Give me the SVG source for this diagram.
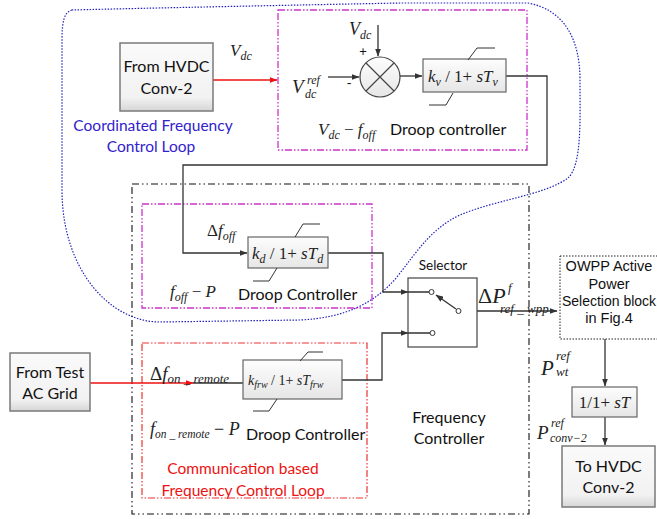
<svg xmlns="http://www.w3.org/2000/svg" width="657" height="519" viewBox="0 0 657 519">
<style>
.sans{font-family:Lato,"Open Sans","Liberation Sans",sans-serif;fill:#111}
.arial{font-family:"Liberation Sans",Arial,sans-serif;fill:#111}
.m{font-family:"Liberation Serif","Times New Roman",serif;font-style:italic;fill:#222}
.r{font-style:normal}
.box{fill:url(#g);stroke:#7a7a7a;stroke-width:1.5}
.blk{fill:url(#g2);stroke:#666;stroke-width:1.2}
.wire{fill:none;stroke:#333;stroke-width:1.3}
.lim{fill:none;stroke:#333;stroke-width:1}
.red{fill:none;stroke:#ee1111;stroke-width:1.4}
.pink{fill:none;stroke:#cc33cc;stroke-width:1.3;stroke-dasharray:7 2 1.5 2 1.5 2}
.redbox{fill:none;stroke:#ee3333;stroke-width:1.2;stroke-dasharray:7 2 1.5 2 1.5 2}
.fc{fill:none;stroke:#111;stroke-width:1.1;stroke-dasharray:7 3 1.5 3 1.5 3}
.blue{fill:none;stroke:#2222bb;stroke-width:1.2;stroke-dasharray:1.5 1.5}
</style>
<defs>
<linearGradient id="g" x1="0" y1="0" x2="0" y2="1"><stop offset="0" stop-color="#fafafa"/><stop offset="0.8" stop-color="#f2f2f2"/><stop offset="1" stop-color="#d6d6d6"/></linearGradient>
<linearGradient id="g2" x1="0" y1="0" x2="0" y2="1"><stop offset="0" stop-color="#fdfdfd"/><stop offset="1" stop-color="#e6e6e6"/></linearGradient>
<marker id="a" markerWidth="8" markerHeight="6" refX="7.5" refY="3" orient="auto" markerUnits="userSpaceOnUse"><path d="M0,0 L8,3 L0,6 Z" fill="#333"/></marker>
<marker id="ar" markerWidth="8" markerHeight="6" refX="7.5" refY="3" orient="auto" markerUnits="userSpaceOnUse"><path d="M0,0 L8,3 L0,6 Z" fill="#ee1111"/></marker>
</defs>

<!-- region outlines -->
<path class="blue" d="M72,10 C64,12 62,22 62,40 L62,190 C62,270 110,322 160,322 L300,320 C345,318 375,303 397,277 C418,250 432,228 460,215 C495,200 545,195 568,178 C582,165 580,120 580,80 C580,40 565,10 528,3 L400,3 C300,5 150,8 72,10 Z"/>
<rect class="fc" x="132" y="184" width="397" height="330"/>
<rect class="pink" x="278" y="10" width="249" height="140"/>
<rect class="pink" x="142" y="204" width="230" height="104"/>
<rect class="redbox" x="142" y="343" width="225" height="155"/>

<g id="connectors">
<path class="red" d="M213,80 L277,80" marker-end="url(#ar)"/>
<path class="wire" d="M378,25 L378,56" marker-end="url(#a)"/>
<path class="wire" d="M328,77 L359,77" marker-end="url(#a)"/>
<path class="wire" d="M400,76 L422,76" marker-end="url(#a)"/>
<path class="wire" d="M506,76 L547,76 L547,165 L183,165 L183,253 L247,253" marker-end="url(#a)"/>
<path class="wire" d="M328,253 L383,253 L383,292 L408,292" marker-end="url(#a)"/>
<path class="red" d="M90,383 L193,383" marker-end="url(#ar)"/>
<path class="wire" d="M193,383 L243,383"/>
<path class="wire" d="M342,380 L382,380 L382,333 L408,333" marker-end="url(#a)"/>
<path class="wire" d="M460,311 L557,311" marker-end="url(#a)"/>
<path class="wire" d="M605,339 L605,386" marker-end="url(#a)"/>
<path class="wire" d="M605,417 L605,445" marker-end="url(#a)"/>
</g>

<g id="from-hvdc">
<rect class="box" x="120" y="43" width="93" height="68"/>
<text class="sans" x="166.5" y="72" font-size="16" text-anchor="middle">From HVDC</text>
<text class="sans" x="166.5" y="94" font-size="16" text-anchor="middle">Conv-2</text>
</g>
<text class="m" x="230" y="56" font-size="17">V<tspan font-size="12" dy="4">dc</tspan></text>
<g id="coord-label">
<text class="sans" x="153" y="131" font-size="15.5" text-anchor="middle" style="fill:#3322cc">Coordinated  Frequency</text>
<text class="sans" x="151" y="152" font-size="15.5" text-anchor="middle" style="fill:#3322cc">Control Loop</text>
</g>

<g id="sum">
<circle cx="380" cy="77" r="20" fill="url(#g2)" stroke="#444" stroke-width="1.2"/>
<path d="M366,63 L394,91 M394,63 L366,91" stroke="#444" stroke-width="1.2"/>
<text class="m" x="349" y="35" font-size="18">V<tspan font-size="12" dy="4">dc</tspan></text>
<text class="sans" x="363" y="56" font-size="13" text-anchor="middle">+</text>
<text class="sans" x="349" y="88" font-size="14" text-anchor="middle">-</text>
<text class="m" x="292" y="93" font-size="19">V</text>
<text class="m" x="307" y="84" font-size="12">ref</text>
<text class="m" x="305" y="98" font-size="12">dc</text>
</g>

<g id="kv-block">
<rect class="blk" x="423" y="59" width="83" height="33"/>
<path class="lim" d="M468,60 L477,48 L495,48 M453,93 L446,105 L429,105"/>
<text class="m" x="428" y="82" font-size="17">k<tspan font-size="12" dy="4">v</tspan><tspan class="r" dy="-4"> / 1+ </tspan>sT<tspan font-size="12" dy="4">v</tspan></text>
</g>
<text class="m" x="318" y="135" font-size="17">V<tspan font-size="12" dy="4">dc</tspan><tspan class="r" dy="-4"> − </tspan>f<tspan font-size="12" dy="4">off</tspan></text>
<text class="sans" x="390" y="135" font-size="16">Droop controller</text>

<g id="kd-block">
<rect class="blk" x="248" y="237" width="80" height="31"/>
<path class="lim" d="M295,237 L303,224 L320,224 M277,268 L269,281 L253,281"/>
<text class="m" x="252" y="259" font-size="17">k<tspan font-size="12" dy="4">d</tspan><tspan class="r" dy="-4"> / 1+ </tspan>sT<tspan font-size="12" dy="4">d</tspan></text>
</g>
<text class="m" x="207" y="236" font-size="17"><tspan class="r">Δ</tspan>f<tspan font-size="12" dy="4">off</tspan></text>
<text class="m" x="170" y="297" font-size="17">f<tspan font-size="12" dy="4">off</tspan><tspan class="r" dy="-4"> − </tspan>P</text>
<text class="sans" x="238" y="300" font-size="16">Droop Controller</text>

<g id="selector">
<rect x="408" y="278" width="69" height="69" fill="#fff" stroke="#444" stroke-width="1.2"/>
<text class="sans" x="443" y="270" font-size="13.5" text-anchor="middle">Selector</text>
<path class="wire" d="M408,292 L429,292 M408,333 L430,333"/>
<path class="wire" d="M456,309 L436,295" marker-end="url(#a)"/>
<circle cx="431.5" cy="292" r="2.5" fill="#fff" stroke="#333"/>
<circle cx="432.5" cy="333" r="2.5" fill="#fff" stroke="#333"/>
<circle cx="458.5" cy="311" r="2.5" fill="#fff" stroke="#333"/>
</g>
<text class="m" x="478" y="303" font-size="22"><tspan class="r">Δ</tspan>P</text>
<text class="m" x="508" y="292" font-size="13">f</text>
<text class="m" x="500" y="313" font-size="13">ref _ wpp</text>

<g id="owpp">
<rect x="560" y="256" width="105" height="83" fill="#fff" stroke="#222" stroke-width="1" stroke-dasharray="1.5 1.5"/>
<text class="arial" x="609" y="271" font-size="14.5" text-anchor="middle">OWPP Active</text>
<text class="arial" x="609" y="289" font-size="14.5" text-anchor="middle">Power</text>
<text class="arial" x="609" y="306" font-size="14" text-anchor="middle">Selection block</text>
<text class="arial" x="609" y="323" font-size="14.5" text-anchor="middle">in Fig.4</text>
</g>
<text class="m" x="541" y="375" font-size="21">P</text>
<text class="m" x="556" y="360" font-size="13">ref</text>
<text class="m" x="556" y="376" font-size="13">wt</text>

<g id="lag-block">
<rect class="blk" x="572" y="387" width="65" height="30"/>
<text class="m" x="604.5" y="408" font-size="17" text-anchor="middle"><tspan class="r">1/1+ </tspan>sT</text>
</g>
<text class="m" x="537" y="439" font-size="19">P</text>
<text class="m" x="551" y="427" font-size="12">ref</text>
<text class="m" x="550" y="442" font-size="12">conv−2</text>

<g id="to-hvdc">
<rect class="box" x="562" y="446" width="93" height="61"/>
<text class="sans" x="608.5" y="472" font-size="16" text-anchor="middle">To HVDC</text>
<text class="sans" x="608.5" y="493" font-size="16" text-anchor="middle">Conv-2</text>
</g>

<text class="sans" x="449" y="423" font-size="16" text-anchor="middle">Frequency</text>
<text class="sans" x="449" y="444" font-size="16" text-anchor="middle">Controller</text>

<g id="from-test">
<rect class="box" x="10" y="353" width="80" height="58"/>
<text class="sans" x="50" y="378" font-size="16" text-anchor="middle">From Test</text>
<text class="sans" x="50" y="399" font-size="16" text-anchor="middle">AC Grid</text>
</g>

<g id="kfrw-block">
<rect class="blk" x="243" y="360" width="99" height="39"/>
<path class="lim" d="M300,361 L308,352 L323,352 M277,399 L269,411 L253,411"/>
<text class="m" x="248" y="385" font-size="14">k<tspan font-size="10" dy="3">frw</tspan><tspan class="r" dy="-3"> / 1+ </tspan>sT<tspan font-size="10" dy="3">frw</tspan></text>
</g>
<text class="m" x="150" y="380" font-size="19"><tspan class="r">Δ</tspan>f<tspan font-size="13" dy="3">on _ remote</tspan></text>
<text class="m" x="150" y="435" font-size="18">f<tspan font-size="11.5" dy="3">on _ remote</tspan><tspan class="r" dy="-3"> − </tspan>P</text>
<text class="sans" x="246" y="440" font-size="16">Droop Controller</text>
<text class="sans" x="243" y="474" font-size="15.5" text-anchor="middle" style="fill:#ee1111">Communication based</text>
<text class="sans" x="243" y="496" font-size="15.5" text-anchor="middle" style="fill:#ee1111">Frequency Control Loop</text>
</svg>
